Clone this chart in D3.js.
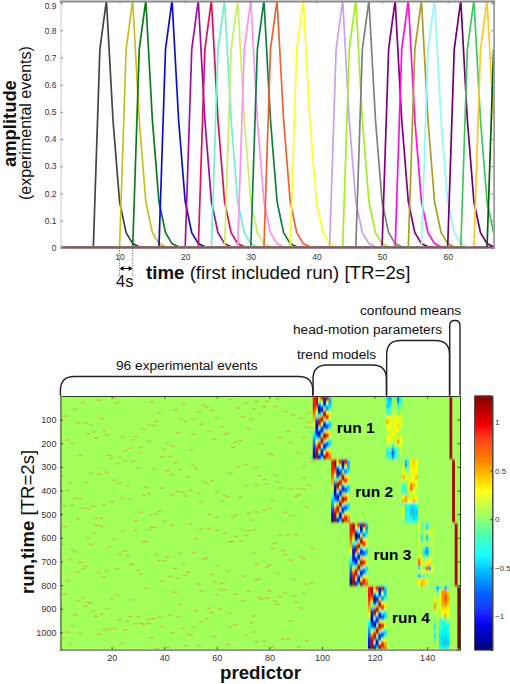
<!DOCTYPE html>
<html><head><meta charset="utf-8">
<script src="https://cdn.jsdelivr.net/npm/d3@7"></script>
<style>html,body{margin:0;padding:0;background:#fff}svg{display:block}text{font-family:"Liberation Sans",Arial,sans-serif}</style>
</head><body><svg id="c" width="510" height="684"></svg>
<script>
// ---------- top panel data ----------
const timeGrid = d3.range(1, 68);
const peakTimes = [8,12,14,18,22,24,26,28,30,32,34,38,44,46,48,52,54,56,58,62,64,66,68];
const peakColors = ["#444444","#c8c020","#0d7a1a","#1010d0","#a010a0","#e0105a","#70f0d0","#c8f060","#ff90f0","#108040","#f06030","#ffff20","#c8a0f0","#a0f020","#808080","#800080","#ff10e0","#a8a020","#90f8f8","#700070","#40c860","#ffc820","#006000"];
const responseShape = [0,0.73,0.91,0.47,0.17,0.055,0.015,0.003];
const topXTicks = [10,20,30,40,50,60];
const topYTicks = [0,0.1,0.2,0.3,0.4,0.5,0.6,0.7,0.8,0.9];
// ---------- design-matrix data ----------
const xTicks = [20,40,60,80,100,120,140];
const yTicks = [100,200,300,400,500,600,700,800,900,1000];
const barTicks = [1,0.5,0,-0.5,-1];
const scansPerRun = 268;
const runNames = ["run 1","run 2","run 3","run 4"];
const eventCells = [[9,27],[15,18],[21,10],[22,30],[35,27],[6,56],[38,72],[44,58],[47,35],[55,38],[56,48],[58,62],[53,66],[65,14],[71,30],[75,23],[79,23],[83,13],[68,52],[74,55],[78,46],[82,44],[76,75],[86,66],[89,80],[95,70],[2,85],[7,114],[10,115],[12,122],[16,96],[34,121],[37,107],[36,125],[32,141],[46,99],[48,108],[51,99],[54,120],[60,92],[62,130],[57,148],[70,87],[73,99],[72,138],[87,149],[92,94],[94,132],[11,160],[13,152],[17,146],[18,166],[14,179],[24,172],[29,172],[28,186],[34,191],[45,155],[51,162],[59,183],[64,158],[63,163],[84,179],[88,197],[93,172],[3,187],[5,201],[67,196],[69,189],[66,217],[77,204],[41,201],[43,213],[50,228],[40,225],[31,217],[27,221],[25,232],[31,239],[91,239],[80,245],[81,249],[8,251],[19,251],[20,262],[23,259],[39,256],[42,256],[25,276],[28,276],[22,286],[44,282],[51,293],[52,307],[71,290],[68,299],[75,303],[93,301],[30,304],[36,307],[46,310],[41,315],[43,335],[49,342],[65,327],[76,338],[82,334],[78,353],[12,327],[15,332],[18,322],[21,356],[23,369],[1,339],[10,366],[4,369],[93,345],[95,376],[55,362],[58,358],[56,370],[71,380],[75,377],[79,372],[83,362],[26,382],[33,385],[39,390],[84,389],[88,393],[91,393],[93,394],[3,399],[6,432],[8,435],[24,432],[27,437],[32,421],[34,414],[45,404],[43,418],[47,407],[48,423],[50,400],[53,411],[54,448],[63,421],[64,427],[69,428],[60,406],[62,445],[81,442],[90,425],[91,418],[2,465],[5,462],[9,475],[11,477],[13,466],[17,459],[20,448],[94,469],[80,475],[78,483],[75,490],[72,496],[31,492],[35,504],[37,499],[38,487],[57,501],[60,511],[67,503],[66,511],[73,525],[86,492],[88,506],[7,520],[14,517],[16,517],[29,527],[40,530],[43,545],[50,542],[14,546],[16,552],[2,552],[35,556],[36,555],[24,573],[29,569],[13,580],[34,565],[54,563],[57,560],[60,566],[63,579],[67,594],[70,566],[72,570],[71,590],[74,566],[11,601],[21,606],[33,615],[32,618],[52,604],[12,627],[1,627],[19,638],[66,615],[65,618],[69,614],[84,589],[87,587],[90,586],[82,624],[81,644],[85,654],[86,670],[88,694],[92,679],[93,689],[5,649],[6,658],[25,656],[23,669],[26,675],[37,672],[40,697],[41,680],[38,696],[46,665],[51,662],[56,685],[55,689],[74,665],[4,692],[8,704],[10,721],[9,732],[7,744],[28,710],[27,714],[47,710],[60,717],[75,711],[79,724],[80,715],[22,730],[30,738],[31,752],[44,730],[64,742],[15,746],[18,741],[17,766],[42,763],[45,770],[48,758],[49,746],[58,755],[70,762],[83,749],[76,773],[75,777],[89,775],[3,780],[39,782],[59,786],[62,792],[94,796],[53,796],[33,813],[61,817],[63,821],[44,830],[54,824],[72,825],[80,824],[2,838],[22,842],[20,858],[9,855],[7,865],[11,873],[12,876],[28,862],[60,841],[67,838],[70,865],[76,852],[77,858],[79,855],[82,868],[83,880],[84,848],[86,834],[89,845],[90,872],[93,835],[10,889],[18,901],[16,923],[14,931],[13,910],[6,925],[46,882],[52,907],[57,898],[58,917],[61,900],[65,918],[74,930],[92,897],[23,948],[26,952],[27,934],[30,935],[34,943],[36,942],[38,935],[42,927],[45,935],[56,943],[54,956],[29,963],[31,961],[32,965],[34,961],[5,972],[39,976],[47,983],[51,979],[65,977],[67,966],[73,958],[88,952],[17,989],[19,986],[21,982],[25,990],[3,999],[8,1003],[15,1008],[43,1001],[49,1006],[50,1011],[59,1017],[71,1013],[74,997],[85,1027],[87,1027],[94,1035],[35,1024],[1,1024],[4,1048],[24,1045],[48,1055],[53,1055],[64,1051],[75,1039],[78,1037],[37,1068],[41,1062],[81,1060],[91,1062],[96,279],[96,135],[95,112],[96,645],[96,790]];
// drift block: rows top to bottom within a run, seven columns each
const trendRows = [
[.9,1.2,.5,1.1,-.9,1.2,-.5],[.9,1.2,.2,.7,-1.2,.9,-.6],[.9,1.1,-.3,.2,-1.3,.3,-.6],[.9,.9,-.9,-.4,-.9,-.2,-.5],
[.9,.7,-1.3,-1.1,-.2,-.8,-.4],[.8,.4,-1.3,-1.2,.6,-.5,-.1],[.7,.1,-.9,-.5,1.2,.3,.3],[.6,-.1,-.2,.5,1.2,.9,.4],
[.5,-.5,.7,1.2,.5,.9,.2],[.45,-.9,1.2,1.1,-.4,.3,-.2],[.3,-1.1,1.2,.3,-1.1,-.5,-.5],[.2,-1.2,.6,-.6,-1.2,-1,-.5],
[0,-1.2,-.3,-1.2,-.6,-.6,-.2],[-.2,-1.1,-1,-1.1,.4,.2,.2],[-.3,-.9,-1.3,-.4,1.1,.9,.4],[-.5,-.6,-1,.6,1.3,1,.2],
[-.6,-.2,-.2,1.2,.7,.3,-.2],[-.7,.2,.7,1.2,-.3,-.6,-.5],[-.8,.6,1.2,.5,-1.1,-1,-.4],[-.9,.9,1.2,-.4,-1.2,-.5,-.1],
[-1,1.1,.6,-1.1,-.6,.3,.3],[-1.1,1.2,-.2,-1.3,.3,1,.5],[-1.2,1.2,-.9,-1,1,1.1,.6],[-1.3,1.2,-1.2,-.4,1.3,.7,.7]
];
// six motion columns per run, rows top to bottom
const motionRun1 = [[-.5,-.6,-.1,-.2,-.7,-.3],[-.4,-.5,0,.1,-.6,-.3],[-.5,-.4,0,.1,-.3,-.1],[-.3,-.2,.1,.1,-.2,0],[-.2,-.2,.1,.1,-.1,.1],[.3,.3,.2,.3,.3,.2],[.5,.3,.2,.2,.2,.3],[.3,.2,.1,.3,.4,.2],[.2,.3,.2,.3,.3,.1],[.1,.2,.3,.3,-.1,.1],[.3,.3,.2,.2,.2,.2],[.2,.2,.1,.2,.6,.3],[.1,.2,-.2,.1,.2,.2],[-.3,-.1,-.6,-.3,-.1,.1],[-.4,-.4,-.9,-.4,0,.1],[-.2,-.3,-.6,-.3,0,0]];
const motionRun2 = [[0,-.5,-.2,.3,.4,.3],[.1,-.6,-.1,.3,.4,.3],[.2,-.2,-.1,.3,.3,.3],[.3,.1,.1,.2,.3,.3],[.5,.2,.1,.3,.2,.5],[.2,0,.2,.3,.3,.2],[-.2,-.1,.2,.6,.5,.2],[-.3,-.2,.2,.7,.3,.1],[-.2,-.2,.1,.2,.2,.1],[.3,.5,.1,.1,.3,.2],[.5,.5,.3,.3,.5,.3],[-.1,-.3,-.1,-.4,-.4,-.3],[.3,-.4,-.3,-.5,-.5,-.4],[.1,-.3,-.3,-.5,-.5,-.5],[.3,-.4,-.2,-.4,-.5,-.4],[-.1,-.2,-.2,-.3,-.4,-.3]];
const motionRun3 = [[.2,-.2,.1,-.4,-.1,.1],[.2,-.1,.1,-.4,.2,.2],[.1,0,.1,.1,.2,.1],[.1,-.4,.2,-.5,.1,.1],[.2,-.3,.2,-.4,.1,.1],[.1,.1,.1,.1,.1,.1],[.1,.1,-.3,-.6,0,.1],[.1,0,-.5,-.7,-.2,.1],[.2,.1,-.2,-.4,.1,.1],[.6,.2,.1,.2,.3,.1],[.7,.2,.1,.3,.4,.1],[-.4,.2,-.1,.8,-.7,.3],[.1,.2,.2,.2,.2,.1],[-.6,-.2,-.3,0,-.1,.1],[.3,.4,.4,.3,.1,.1],[.3,.5,.4,.1,0,0]];
const motionRun4 = [[-.1,-.6,-.3,.2,-.6,-.2],[.1,-.2,.2,.6,.6,.4],[.1,.1,.3,.6,.7,.5],[.3,.1,.2,.6,.7,.5],[.5,.1,.2,.5,.6,.4],[.5,.1,.2,.4,.4,.3],[.1,.2,.1,.3,.3,.3],[0,.1,.1,.2,.5,.3],[0,.1,-.2,-.2,-.1,0],[-.2,.1,-.2,-.3,-.3,-.2],[-.4,.1,-.3,-.3,-.4,-.3],[-.1,.1,-.3,-.4,-.4,-.3],[-.4,0,-.4,-.4,-.4,-.4],[-.1,.1,-.4,-.5,-.5,-.4],[-.1,.1,-.4,-.5,-.5,-.5],[.1,.1,-.3,-.4,-.4,-.2]];
const motionRuns = [motionRun1,motionRun2,motionRun3,motionRun4];
const confoundValues = [1.15,1.15,1.15,1.25];
const backgroundValue = 0.05;
const colorDomain = [-1.35,1.27];
const jetStops = ["#000080","#0000ff","#00ffff","#ffff00","#ff0000","#800000"];
const jetPositions = [0,0.125,0.375,0.625,0.875,1];
const eventColor = "#e08a28";

// ---------- scales ----------
const svg = d3.select("#c");
const defs = svg.append("defs");
const txt = (g,x,y,s,size,opt={})=>{const t=g.append("text").attr("x",x).attr("y",y).attr("font-size",size).attr("fill",opt.fill||"#111").attr("text-anchor",opt.anchor||"start").attr("font-weight",opt.weight||"normal").text(s);if(opt.rotate)t.attr("transform",`rotate(-90 ${x} ${y})`);return t;};
const jet = d3.scaleLinear().domain(jetPositions.map(p=>colorDomain[0]+p*(colorDomain[1]-colorDomain[0]))).range(jetStops).clamp(true);
const xT = d3.scaleLinear().domain([1,67]).range([60.5,493.6]);
const yT = d3.scaleLinear().domain([0,0.908]).range([247.7,1]);
const xH = d3.scaleLinear().domain([0.5,152.5]).range([60.4,460]);
const yH = d3.scaleLinear().domain([0.5,1072.5]).range([396,649.6]);
const yC = d3.scaleLinear().domain(colorDomain).range([650,396]);

const blur=(id,sd)=>defs.append("filter").attr("id",id).attr("filterUnits","userSpaceOnUse").attr("x",0).attr("y",0).attr("width",510).attr("height",684).append("feGaussianBlur").attr("stdDeviation",sd);
blur("b1","0.5");
blur("b2","0.75 1.1");
blur("b3","1.0 0.45");
defs.append("clipPath").attr("id","cT").append("rect").attr("x",xT(1)).attr("y",yT(0.908)).attr("width",xT(67)-xT(1)).attr("height",yT(0)-yT(0.908)+1);
defs.append("clipPath").attr("id","cH").append("rect").attr("x",xH(0.5)).attr("y",yH(0.5)).attr("width",xH(152.5)-xH(0.5)).attr("height",yH(1072.5)-yH(0.5));

// ---------- top panel ----------
const gT = svg.append("g").attr("clip-path","url(#cT)").append("g").attr("filter","url(#b1)");
const line = d3.line().x(d=>xT(d.t)).y(d=>yT(d.v));
const seriesData = peakTimes.map(pk=>timeGrid.map(t=>{const k=t-(pk-2);return {t,v:(k>=0&&k<responseShape.length)?responseShape[k]:0};}));
gT.selectAll("path.s").data(seriesData).join("path").attr("class","s").attr("fill","none").attr("stroke-width",1.7).attr("stroke",(d,i)=>peakColors[i]).attr("d",line);
gT.append("path").datum(timeGrid.map(t=>({t,v:0}))).attr("fill","none").attr("stroke","#b030b0").attr("stroke-width",1.7).attr("d",line);

const axT = svg.append("g").attr("class","ax");
const frameT = "#8a8a8a";
const gb = axT.append("g").attr("transform",`translate(0,${yT(0)})`).call(d3.axisBottom(xT).tickValues(topXTicks).tickSize(-2.5).tickPadding(6).tickFormat(d3.format("d")));
const gl = axT.append("g").attr("transform",`translate(${xT(1)},0)`).call(d3.axisLeft(yT).tickValues(topYTicks).tickSize(-2.5).tickPadding(4).tickFormat(d=>d===0?"0":d3.format(".1f")(d)));
const gt = axT.append("g").attr("transform",`translate(0,${yT(0.908)})`).call(d3.axisTop(xT).tickValues(topXTicks).tickSize(-2.5).tickFormat(""));
const gr = axT.append("g").attr("transform",`translate(${xT(67)},0)`).call(d3.axisRight(yT).tickValues(topYTicks).tickSize(-2.5).tickFormat(""));
[gb,gl,gt,gr].forEach(g=>{g.selectAll(".tick line").attr("stroke",frameT);g.selectAll("text").attr("font-family","Liberation Sans").attr("font-size",8.5).attr("fill","#333");});
gl.selectAll(".tick").filter(d=>d===0.9).select("text").attr("dy","0.6em");
gb.select(".domain").attr("stroke","none");
gl.select(".domain").attr("stroke","#c8c8c8");
gt.select(".domain").attr("stroke",frameT).attr("stroke-width",2);
gr.select(".domain").attr("stroke",frameT).attr("stroke-width",1.5);

// top panel labels
txt(svg,16,167,"amplitude",18.4,{rotate:true,weight:"bold"});
txt(svg,31,200,"(experimental events)",16,{rotate:true});
const tl = svg.append("text").attr("x",146).attr("y",279).attr("font-size",18.7).attr("fill","#111");
tl.append("tspan").attr("font-weight","bold").text("time");
tl.append("tspan").text(" (first included run) [TR=2s]");
txt(svg,116,287,"4s",16.5);
svg.selectAll("line.dot").data([10,12]).join("line").attr("class","dot").attr("x1",d=>xT(d)).attr("x2",d=>xT(d)).attr("y1",yT(0)).attr("y2",276).attr("stroke","#333").attr("stroke-width",0.8).attr("stroke-dasharray","1,1.5");
svg.append("line").attr("x1",xT(10)+1).attr("x2",xT(12)-1).attr("y1",268.5).attr("y2",268.5).attr("stroke","#111").attr("stroke-width",1);
svg.append("path").attr("fill","#111").attr("d",`M${xT(10)},268.5l4,-2.4v4.8z M${xT(12)},268.5l-4,-2.4v4.8z`);

// ---------- heat map ----------
const gClip = svg.append("g").attr("clip-path","url(#cH)");
const gH = gClip.append("g").attr("filter","url(#b2)");
gH.append("rect").attr("x",45).attr("y",382).attr("width",430).attr("height",285).attr("fill",jet(backgroundValue));
const runH = yH(scansPerRun+0.5)-yH(0.5);
const pw = xH(1.5)-xH(0.5);
const trendCells=[];
runNames.forEach((_,r)=>trendRows.forEach((row,i)=>row.forEach((v,c)=>trendCells.push({p:97+r*7+c,r,i,n:trendRows.length,v}))));
const motionCells=[];
motionRuns.forEach((rows,r)=>rows.forEach((row,i)=>row.forEach((v,c)=>motionCells.push({p:125+r*6+c,r,i,n:rows.length,v}))));
const confCells=confoundValues.map((v,r)=>({p:149+r,r,i:0,n:1,v}));
gH.selectAll("rect.cell").data(trendCells.concat(motionCells,confCells)).join("rect").attr("class","cell")
  .attr("x",d=>xH(d.p-0.5)).attr("width",pw+0.15)
  .attr("y",d=>yH(0.5+d.r*scansPerRun+d.i*scansPerRun/d.n)).attr("height",d=>runH/d.n+0.15)
  .attr("fill",d=>jet(d.v));
gClip.append("g").attr("filter","url(#b3)").selectAll("rect.ev").data(eventCells).join("rect").attr("class","ev")
  .attr("x",d=>xH(d[0]-0.5)).attr("y",d=>yH(d[1]-3)).attr("width",pw+0.6).attr("height",yH(7)-yH(0.5)).attr("fill",eventColor).attr("fill-opacity",0.6);

// heat-map axes
const axH = svg.append("g");
const hb = axH.append("g").attr("transform",`translate(0,${yH(1072.5)})`).call(d3.axisBottom(xH).tickValues(xTicks).tickSize(-2.5).tickPadding(5));
const ht = axH.append("g").attr("transform",`translate(0,${yH(0.5)})`).call(d3.axisTop(xH).tickValues(xTicks).tickSize(-2.5).tickFormat(""));
const hl = axH.append("g").attr("transform",`translate(${xH(0.5)},0)`).call(d3.axisLeft(yH).tickValues(yTicks).tickSize(-2.5).tickPadding(4).tickFormat(d3.format("d")));
const hr = axH.append("g").attr("transform",`translate(${xH(152.5)},0)`).call(d3.axisRight(yH).tickValues(yTicks).tickSize(-2.5).tickFormat(""));
[hb,ht,hl,hr].forEach(g=>{g.selectAll(".tick line").attr("stroke","#3a4a2a");g.selectAll("text").attr("font-family","Liberation Sans").attr("font-size",9).attr("fill","#333");g.select(".domain").attr("stroke","#34491f").attr("stroke-width",1);});
hl.select(".domain").attr("stroke","#7f9162").attr("stroke-width",2);
ht.select(".domain").attr("stroke","#333");

runNames.forEach((s,r)=>{
  txt(svg,xH(97+(r+1)*7-0.5)+24.5,yH(0.5+(r+0.5)*scansPerRun)+5.5,s,15.5,{weight:"bold",anchor:"middle",fill:"#000"});
});
const yl = svg.append("text").attr("transform","translate(34,594) rotate(-90)").attr("font-size",18.6).attr("fill","#111");
yl.append("tspan").attr("font-weight","bold").text("run,time");
yl.append("tspan").text(" [TR=2s]");
txt(svg,260.5,679,"predictor",18.7,{weight:"bold",anchor:"middle"});

// braces
const braces=[[0.5,96.5,376.5,14,"96 experimental events",116,370],[96.6,124.5,365,14,"trend models",297,359],[124.6,148.5,340.5,14,"head-motion parameters",293,334],[148.6,152.5,320.5,5,"confound means",360,315]];
braces.forEach(([a,b,top,rad,s,tx,ty])=>{
  const x0=xH(a),x1=xH(b),base=yH(0.5)-0.5;
  svg.append("path").attr("fill","none").attr("stroke","#222").attr("stroke-width",1.4)
   .attr("d",`M${x0},${base}V${top+rad}Q${x0},${top} ${x0+rad},${top}H${x1-rad}Q${x1},${top} ${x1},${top+rad}V${base}`);
  txt(svg,tx,ty,s,13.7);
});

// colour bar
const barRows=d3.range(colorDomain[0],colorDomain[1],0.0105);
const gC=svg.append("g");
gC.selectAll("rect").data(barRows).join("rect").attr("x",474.5).attr("width",18).attr("y",d=>yC(d+0.0105)).attr("height",yC(0)-yC(0.0105)+0.4).attr("fill",d=>jet(d));
const bAxis=svg.append("g").attr("transform","translate(492.5,0)").call(d3.axisRight(yC).tickValues(barTicks).tickSize(-2).tickPadding(2.5).tickFormat(d=>d3.format("")(d)));
bAxis.select(".domain").attr("stroke","#333");
bAxis.selectAll(".tick line").attr("stroke","#333");
bAxis.selectAll("text").attr("font-family","Liberation Sans").attr("font-size",8).attr("fill","#333");
svg.append("rect").attr("x",474.5).attr("y",396).attr("width",18).attr("height",254).attr("fill","none").attr("stroke","#444").attr("stroke-width",0.8);
</script></body></html>
